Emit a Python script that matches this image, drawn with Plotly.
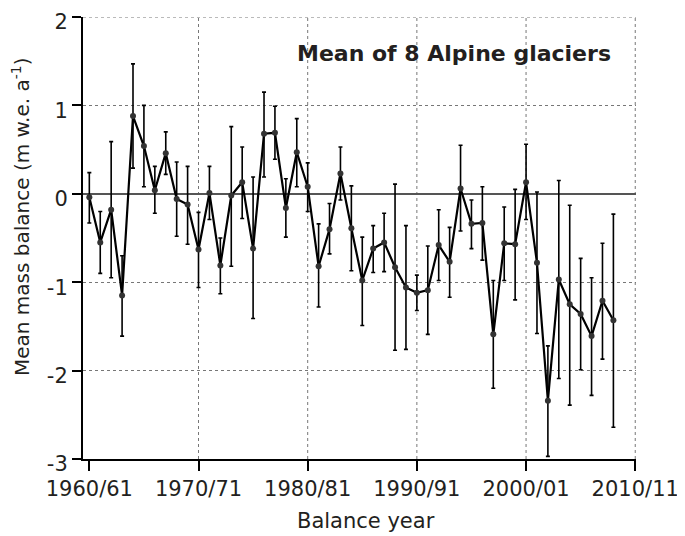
import plotly.graph_objects as go

years = list(range(1960, 2009))
balance = [-0.04, -0.55, -0.18, -1.15, 0.88, 0.54, 0.04, 0.46, -0.06, -0.12,
           -0.63, 0.01, -0.81, -0.02, 0.13, -0.62, 0.68, 0.69, -0.16, 0.47,
           0.08, -0.82, -0.40, 0.23, -0.39, -0.98, -0.62, -0.55, -0.83, -1.06,
           -1.12, -1.09, -0.58, -0.77, 0.06, -0.34, -0.33, -1.59, -0.56, -0.57,
           0.13, -0.78, -2.34, -0.97, -1.25, -1.36, -1.61, -1.21, -1.43]
upper = [0.24, -0.20, 0.59, -0.70, 1.47, 1.00, 0.31, 0.70, 0.36, 0.31,
         -0.21, 0.31, -0.50, 0.76, 0.53, 0.19, 1.15, 0.99, 0.17, 0.85,
         0.35, -0.34, -0.11, 0.53, 0.09, -0.49, -0.36, -0.22, 0.11, -0.36,
         -0.92, -0.59, -0.18, -0.38, 0.55, -0.07, 0.08, -0.98, -0.15, 0.05,
         0.56, 0.02, -1.72, 0.15, -0.13, -0.73, -0.95, -0.56, -0.23]
lower = [-0.33, -0.90, -0.95, -1.61, 0.29, 0.08, -0.22, 0.22, -0.48, -0.57,
         -1.06, -0.29, -1.13, -0.82, -0.28, -1.41, 0.19, 0.39, -0.49, 0.08,
         -0.20, -1.28, -0.68, -0.07, -0.87, -1.49, -0.89, -0.88, -1.77, -1.76,
         -1.32, -1.59, -0.98, -1.17, -0.42, -0.62, -0.75, -2.20, -0.98, -1.20,
         -0.29, -1.58, -2.97, -2.09, -2.39, -1.99, -2.28, -1.87, -2.64]

x_tickvals = [1960, 1970, 1980, 1990, 2000, 2010]
x_ticktext = ["1960/61", "1970/71", "1980/81", "1990/91", "2000/01", "2010/11"]
y_tickvals = [-3, -2, -1, 0, 1, 2]
y_ticktext = ["-3", "-2", "-1", "0", "1", "2"]

err_plus = [u - b for u, b in zip(upper, balance)]
err_minus = [b - l for b, l in zip(balance, lower)]

FONT = "DejaVu Sans, Liberation Sans, Arial, sans-serif"
TXT = "#231f20"

# page has an 8px body margin; plot area should sit at page px (83,17)-(636,459)
OFF = 8
L, T = 83 - OFF, 17 - OFF
R, B = 49, 77
W, H = 685 - OFF, 536 - OFF
PW, PH = W - L - R, H - T - B

fig = go.Figure()
fig.add_trace(go.Scatter(
    x=years, y=balance, mode="lines+markers",
    line=dict(color="black", width=2.2),
    marker=dict(color="#333333", size=6),
    error_y=dict(type="data", symmetric=False, array=err_plus,
                 arrayminus=err_minus, color="black", thickness=1.6, width=2),
    showlegend=False,
))

for xv in x_tickvals[1:]:
    fig.add_shape(type="line", xref="x", yref="paper", x0=xv, x1=xv, y0=0, y1=1,
                  line=dict(color="#777777", width=1, dash="dot"), layer="below")
fig.add_shape(type="line", xref="paper", yref="y", x0=0, x1=1, y0=y_tickvals[-1],
              y1=y_tickvals[-1], line=dict(color="#777777", width=1, dash="dot"),
              layer="below")

fig.update_layout(
    width=W, height=H,
    margin=dict(l=L, r=R, t=T, b=B, autoexpand=False),
    paper_bgcolor="white", plot_bgcolor="white",
    font=dict(family=FONT, size=21, color=TXT),
    xaxis=dict(range=[1959.42, 2010.07], tickvals=x_tickvals, ticktext=x_ticktext,
               automargin=False, ticklabeloverflow="allow",
               showgrid=False, zeroline=False, showline=True, linecolor="black",
               linewidth=1.5, ticks="outside", ticklen=10, tickwidth=2,
               tickcolor="black", tickfont=dict(size=21, color=TXT)),
    yaxis=dict(range=[-3, 2], tickvals=y_tickvals, ticktext=y_ticktext,
               automargin=False, ticklabeloverflow="allow", ticklabelshift=5,
               showgrid=True, gridcolor="#777777", griddash="dot", gridwidth=1,
               zeroline=True, zerolinecolor="#555555", zerolinewidth=1.5,
               showline=True, linecolor="black", linewidth=2,
               ticks="outside", ticklen=9, tickwidth=2, tickcolor="black",
               tickfont=dict(size=21, color=TXT)),
    annotations=[
        dict(text="<b>Mean of 8 Alpine glaciers</b>", xref="paper", yref="paper",
             x=(453.7 - 83) / PW, y=(459 - 53) / PH, showarrow=False,
             font=dict(size=22, color=TXT, family=FONT), xanchor="center",
             yanchor="middle"),
        dict(text="Balance year", xref="paper", yref="paper",
             x=(366 - 83) / PW, y=(459 - 521) / PH, showarrow=False,
             font=dict(size=21, color=TXT, family=FONT), xanchor="center",
             yanchor="middle"),
        dict(text="Mean mass balance (m w.e. a<sup>-1</sup>)", xref="paper",
             yref="paper", x=(21 - 83) / PW, y=(459 - 217) / PH,
             showarrow=False, textangle=-90,
             font=dict(size=20, color=TXT, family=FONT), xanchor="center",
             yanchor="middle"),
    ],
)

fig.write_html("out.html")
